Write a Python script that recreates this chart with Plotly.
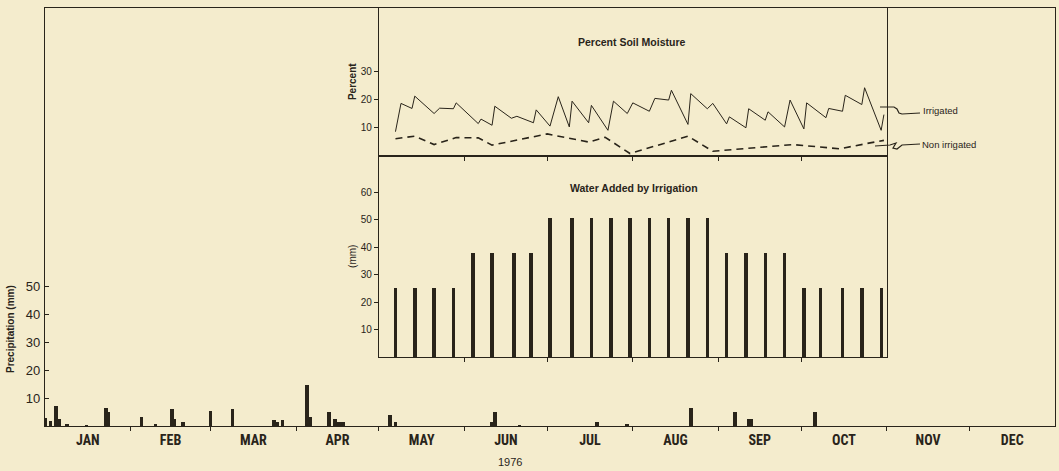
import plotly.graph_objects as go
import pandas as pd

# ---------------- data ----------------
MONTHS = ["JAN", "FEB", "MAR", "APR", "MAY", "JUN", "JUL", "AUG", "SEP", "OCT", "NOV", "DEC"]
YEAR_LABEL = "1976"

precip_dates = ["1976-01-01", "1976-01-03", "1976-01-05", "1976-01-06", "1976-01-09", "1976-01-16",
                "1976-01-23", "1976-01-24", "1976-02-05", "1976-02-10", "1976-02-16", "1976-02-17",
                "1976-02-20", "1976-03-01", "1976-03-09", "1976-03-24", "1976-03-25", "1976-03-27",
                "1976-04-05", "1976-04-06", "1976-04-13", "1976-04-15", "1976-04-16", "1976-04-17",
                "1976-04-18", "1976-05-05", "1976-05-07", "1976-06-11", "1976-06-12", "1976-06-21",
                "1976-07-19", "1976-07-30", "1976-08-22", "1976-09-07", "1976-09-12", "1976-09-13",
                "1976-10-06"]
precip_mm = [2.8, 1.8, 7.3, 2.5, 0.5, 0.3,
             6.3, 5.1, 3.1, 0.4, 6.0, 2.6,
             1.4, 5.3, 6.0, 2.0, 1.4, 2.2,
             14.5, 3.1, 5.1, 2.5, 1.3, 1.4,
             1.5, 3.9, 1.5, 1.5, 5.1, 0.3,
             1.4, 0.8, 6.4, 5.1, 2.5, 2.5,
             5.1]

irr_dates = ["1976-05-07", "1976-05-14", "1976-05-21", "1976-05-28",
             "1976-06-04", "1976-06-11", "1976-06-19", "1976-06-25",
             "1976-07-02", "1976-07-10", "1976-07-17", "1976-07-24", "1976-07-31",
             "1976-08-07", "1976-08-14", "1976-08-21", "1976-08-28",
             "1976-09-04", "1976-09-11", "1976-09-18", "1976-09-25",
             "1976-10-02", "1976-10-08", "1976-10-16", "1976-10-23", "1976-10-30"]
irr_mm = [25.4, 25.4, 25.4, 25.4,
          38.1, 38.1, 38.1, 38.1,
          50.8, 50.8, 50.8, 50.8, 50.8,
          50.8, 50.8, 50.8, 50.8,
          38.1, 38.1, 38.1, 38.1,
          25.4, 25.4, 25.4, 25.4, 25.4]

soil_irr_dates = ["1976-05-07", "1976-05-09", "1976-05-13", "1976-05-14", "1976-05-21", "1976-05-23",
                  "1976-05-28", "1976-05-29", "1976-06-06", "1976-06-07", "1976-06-11", "1976-06-12",
                  "1976-06-18", "1976-06-20", "1976-06-26", "1976-06-27", "1976-07-02", "1976-07-05",
                  "1976-07-09", "1976-07-10", "1976-07-16", "1976-07-17", "1976-07-23", "1976-07-25",
                  "1976-07-30", "1976-08-01", "1976-08-07", "1976-08-09", "1976-08-14", "1976-08-15",
                  "1976-08-21", "1976-08-22", "1976-08-28", "1976-08-30", "1976-09-04", "1976-09-05",
                  "1976-09-11", "1976-09-12", "1976-09-18", "1976-09-19", "1976-09-25", "1976-09-27",
                  "1976-10-02", "1976-10-03", "1976-10-10", "1976-10-11", "1976-10-16", "1976-10-17",
                  "1976-10-23", "1976-10-24", "1976-10-30", "1976-10-31"]
soil_irr_pct = [8.5, 18.6, 16.8, 21.2, 15.0, 16.9,
                16.7, 18.8, 11.4, 13.0, 10.8, 17.6,
                13.3, 14.0, 11.7, 16.3, 10.5, 21.0,
                10.2, 19.4, 11.7, 17.9, 9.0, 19.4,
                15.0, 18.8, 15.8, 20.4, 19.8, 23.3,
                11.1, 22.1, 16.7, 18.6, 11.3, 13.8,
                9.9, 16.7, 12.6, 15.6, 10.2, 19.8,
                9.5, 18.8, 13.5, 16.8, 15.8, 21.5,
                18.2, 24.2, 9.0, 14.6]

soil_non_dates = ["1976-05-07", "1976-05-14", "1976-05-21", "1976-05-29", "1976-06-06", "1976-06-11",
                  "1976-07-01", "1976-07-16", "1976-07-22", "1976-07-31", "1976-08-21", "1976-08-30",
                  "1976-09-28", "1976-10-15", "1976-10-26", "1976-10-31"]
soil_non_pct = [6.0, 6.9, 3.9, 6.4, 6.3, 3.7,
                7.7, 4.8, 6.5, 0.7, 6.9, 1.5,
                3.9, 2.4, 4.5, 5.4]

PRECIP_TICKS = [10, 20, 30, 40, 50]
PCT_TICKS = [10, 20, 30]
IRR_TICKS = [10, 20, 30, 40, 50, 60]

# ---------------- style ----------------
BG = "#F4ECCD"
INK = "#29241a"
FONT = "Liberation Sans, Arial, sans-serif"
NARROW = "Liberation Sans Narrow, Roboto Condensed, DejaVu Sans Condensed, Liberation Sans, sans-serif"
DAY_MS = 86400000

month_starts = pd.date_range("1976-01-01", periods=13, freq="MS")
month_mids = [s + (e - s) / 2 for s, e in zip(month_starts[:-1], month_starts[1:])]

W, H = 1059, 471
ML, MR, MT, MB = 45, 4, 8, 45
PW, PH = W - ML - MR, H - MT - MB


def px(x):
    return (x - ML) / PW


def py(y):
    return (H - MB - y) / PH


inset_x0 = (month_starts[4] - month_starts[0]).days / 366
inset_x1 = (month_starts[10] - month_starts[0]).days / 366

fig = go.Figure()

fig.add_trace(go.Bar(x=precip_dates, y=precip_mm, width=1.3 * DAY_MS,
                     marker=dict(color=INK, line=dict(width=0)), xaxis="x", yaxis="y",
                     showlegend=False))
fig.add_trace(go.Bar(x=irr_dates, y=irr_mm, width=1.25 * DAY_MS,
                     marker=dict(color=INK, line=dict(width=0)), xaxis="x3", yaxis="y3",
                     showlegend=False))
fig.add_trace(go.Scatter(x=soil_irr_dates, y=soil_irr_pct, mode="lines",
                         line=dict(color=INK, width=1), xaxis="x2", yaxis="y2",
                         showlegend=False))
fig.add_trace(go.Scatter(x=soil_non_dates, y=soil_non_pct, mode="lines",
                         line=dict(color=INK, width=1.6, dash="7px,5px"), xaxis="x2", yaxis="y2",
                         showlegend=False))

axis_common = dict(showgrid=False, zeroline=False, showline=True, linecolor=INK,
                   linewidth=1.2, tickcolor=INK, tickwidth=1.2, automargin=False)

fig.update_layout(
    width=W, height=H,
    margin=dict(l=ML, r=MR, t=MT, b=MB, pad=0),
    paper_bgcolor=BG, plot_bgcolor="rgba(0,0,0,0)",
    font=dict(family=FONT, color=INK),
    bargap=0,
    xaxis=dict(**axis_common, type="date", domain=[0, 1], anchor="y",
               range=["1976-01-01", "1977-01-01"], mirror=True,
               tickmode="array", tickvals=month_mids, ticktext=MONTHS, ticks="",
               tickfont=dict(family=NARROW, size=14, weight="bold"), ticklabelstandoff=1,
               minor=dict(tickmode="array", tickvals=list(month_starts[1:-1]), ticks="outside",
                          ticklen=4, tickcolor=INK, tickwidth=1.2, showgrid=False)),
    yaxis=dict(**axis_common, domain=[0, 1], anchor="x", range=[0, PH / 2.8], mirror=True,
               tickmode="array", tickvals=PRECIP_TICKS, ticks="inside", ticklen=4,
               tickfont=dict(size=13), ticklabelstandoff=1),
    xaxis2=dict(**axis_common, type="date", domain=[inset_x0, inset_x1], anchor="y2",
                range=["1976-05-01", "1976-11-01"], mirror=True,
                tickmode="array", tickvals=list(month_starts[5:10]), ticks="outside", ticklen=4,
                showticklabels=False),
    yaxis2=dict(**axis_common, domain=[py(155.5), 1], anchor="x2",
                range=[0, (155.5 - MT) / 2.8], mirror=True,
                tickmode="array", tickvals=PCT_TICKS, ticks="outside", ticklen=4,
                tickfont=dict(size=10),
                title=dict(text="<b>Percent</b>", font=dict(size=10), standoff=2)),
    xaxis3=dict(**axis_common, type="date", domain=[inset_x0, inset_x1], anchor="y3",
                range=["1976-05-01", "1976-11-01"], mirror=True,
                tickmode="array", tickvals=list(month_starts[5:10]), ticks="outside", ticklen=4,
                showticklabels=False),
    yaxis3=dict(**axis_common, domain=[py(357), py(155.5)], anchor="x3",
                range=[0, (357 - 155.5) / 2.75], mirror=True,
                tickmode="array", tickvals=IRR_TICKS, ticks="outside", ticklen=4,
                tickfont=dict(size=10),
                title=dict(text="(mm)", font=dict(size=10), standoff=2)),
)


def label(text, x, y, size, xanchor="center", angle=0):
    fig.add_annotation(text=text, x=px(x), y=py(y), xref="paper", yref="paper",
                       xanchor=xanchor, yanchor="middle", textangle=angle, borderpad=0,
                       showarrow=False, font=dict(size=size))


# axis titles of the precipitation chart
label("<b>Precipitation (mm)</b>", 10, 329, 10, angle=-90)
label(YEAR_LABEL, 510, 462, 11)

# panel titles
label("<b>Percent Soil Moisture</b>", 632, 42, 10.5)
label("<b>Water Added by Irrigation</b>", 634, 188, 10.5)

# series labels with connectors
label("Irrigated", 922, 110, 9.5, xanchor="left")
label("Non irrigated", 921, 144, 9.5, xanchor="left")


def path(points):
    return "M " + " L ".join(f"{px(a):.5f},{py(b):.5f}" for a, b in points)


fig.add_shape(type="path", xref="paper", yref="paper",
              path=path([(880, 107), (894, 107), (897, 109), (899, 113), (902, 114), (920, 113)]),
              line=dict(color=INK, width=1.2))
fig.add_shape(type="path", xref="paper", yref="paper",
              path=path([(875, 146), (890, 145), (896, 143), (893, 148), (897, 149), (902, 145), (920, 144)]),
              line=dict(color=INK, width=1.2))

fig.write_html("out.html", config={"displayModeBar": False},
               post_script="document.body.style.margin='0';document.body.style.background='" + BG + "';")
